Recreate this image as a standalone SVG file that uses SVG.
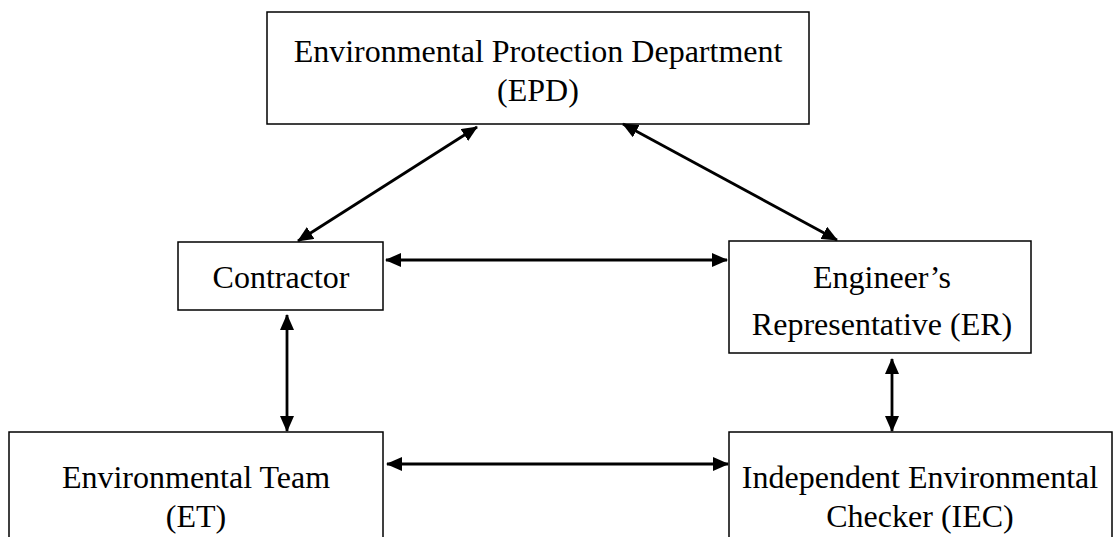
<svg xmlns="http://www.w3.org/2000/svg" width="1115" height="537" viewBox="0 0 1115 537">
<style>
.box{fill:#fff;stroke:#000;stroke-width:1.5}
.t{font-family:"Liberation Serif","Times New Roman",serif;font-size:32px;fill:#000;text-anchor:middle}
.c{stroke:#000;stroke-width:2.8;fill:none;marker-start:url(#ah);marker-end:url(#ah)}
</style>
<defs>
<marker id="ah" viewBox="0 0 16 14" refX="15" refY="7" markerWidth="16" markerHeight="14" markerUnits="userSpaceOnUse" orient="auto-start-reverse">
<path d="M0,0 L16,7 L0,14 z" fill="#000"/>
</marker>
</defs>
<rect width="1115" height="537" fill="#fff"/>
<g id="epd">
<rect class="box" x="267" y="12" width="542" height="112"/>
<text class="t" x="538" y="62">Environmental Protection Department</text>
<text class="t" x="538" y="101">(EPD)</text>
</g>
<g id="contractor">
<rect class="box" x="178" y="242" width="205" height="68"/>
<text class="t" x="281" y="288">Contractor</text>
</g>
<g id="er">
<rect class="box" x="729" y="241" width="302" height="112"/>
<text class="t" x="882" y="288">Engineer’s</text>
<text class="t" x="882" y="335">Representative (ER)</text>
</g>
<g id="et">
<rect class="box" x="9" y="432" width="374" height="120"/>
<text class="t" x="196" y="488">Environmental Team</text>
<text class="t" x="196" y="527">(ET)</text>
</g>
<g id="iec">
<rect class="box" x="729" y="432" width="383" height="120"/>
<text class="t" x="920" y="488">Independent Environmental</text>
<text class="t" x="920" y="527">Checker (IEC)</text>
</g>
<g id="connectors">
<line class="c" x1="477" y1="127" x2="298" y2="241"/>
<line class="c" x1="623" y1="124" x2="837" y2="240"/>
<line class="c" x1="386" y1="260" x2="727" y2="260"/>
<line class="c" x1="287" y1="315" x2="287" y2="431"/>
<line class="c" x1="892" y1="359" x2="892" y2="431"/>
<line class="c" x1="387" y1="464" x2="728" y2="464"/>
</g>
</svg>
